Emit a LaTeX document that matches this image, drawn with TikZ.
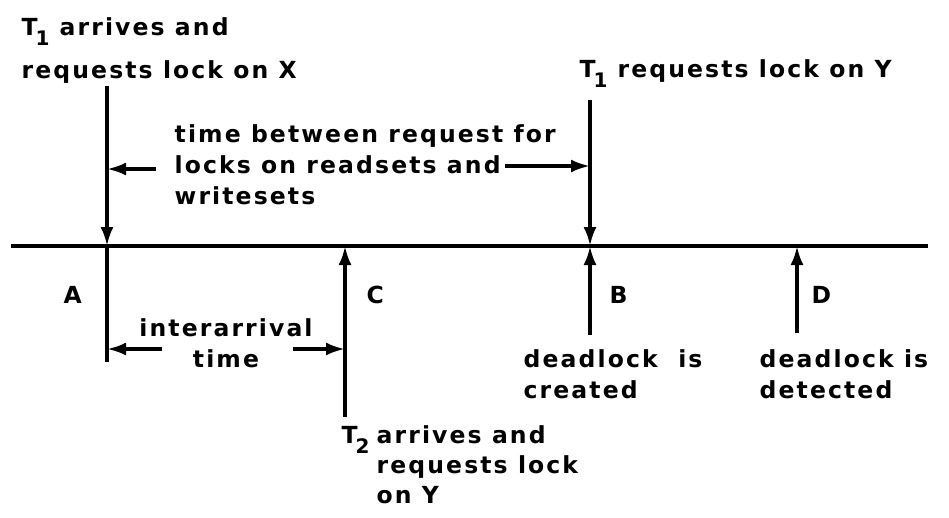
\documentclass[tikz,border=0pt]{standalone}
\usepackage{fontspec}
\setmainfont{DejaVu Sans}[LetterSpace=9]
\usetikzlibrary{arrows.meta}
% transaction subscript, set low and tucked under the T
\newcommand\tsub[1]{\kern-2pt\raisebox{-10pt}{\fontsize{20}{20}\selectfont #1}\kern10pt}
\begin{document}
\begin{tikzpicture}[x=1pt,y=-1pt,line width=3.4pt,
  lbl/.style={anchor=base west,inner sep=0pt,align=left,
    font=\fontsize{23.5}{31}\selectfont\bfseries},
  clbl/.style={lbl,anchor=base,align=center},
  arr/.style={-{Latex[length=19pt,width=13pt]}}]
\useasboundingbox (0,0) rectangle (949,517);

% time axis and the instants A, C, B, D on it
\coordinate (tl) at (11,246);
\coordinate (tr) at (928,246);
\coordinate (aTop) at (107,86);
\coordinate (aMid) at (107,246);
\coordinate (aBot) at (107,362);
\coordinate (cMid) at (345,246);
\coordinate (cBot) at (345,417);
\coordinate (bTop) at (590,100);
\coordinate (bMid) at (590,246);
\coordinate (bBot) at (590,335);
\coordinate (dMid) at (797,246);
\coordinate (dBot) at (797,333);

\draw (tl) -- (tr);
\draw[arr] (aTop) -- (aMid);
\draw (aMid) -- (aBot);
\draw[arr] (bTop) -- (bMid);
\draw[arr] (bBot) -- (bMid);
\draw[arr] (cBot) -- (cMid);
\draw[arr] (dBot) -- (dMid);

% interval arrows
\coordinate (wL) at (156,169);
\coordinate (wR) at (505,166);
\coordinate (iL) at (162,349);
\coordinate (iR) at (293,349);
\draw[arr] (wL) -- (wL -| aTop);
\draw[arr] (wR) -- (wR -| bTop);
\draw[arr] (iL) -- (iL -| aTop);
\draw[arr] (iR) -- (iR -| cBot);

% labels (multi-line labels are placed by the baseline of their last line)
\node[lbl] (t1arrive) at (20,78) {T\tsub{1}arrives and\\[12pt]requests lock on X};
\node[lbl] (t1req) at (578,77) {T\tsub{1}requests lock on Y};
\node[lbl] (between) at (173,204) {time between request for\\locks on readsets and\\writesets};
\node[lbl] (la) at (62,303) {A};
\node[lbl] (lc) at (365,303) {C};
\node[lbl] (lb) at (608,303) {B};
\node[lbl] (ld) at (810,303) {D};
\node[clbl] (inter) at (226,367) {interarrival\\time};
\node[lbl] (created) at (522,398) {deadlock\ \ is\\created};
\node[lbl] (detected) at (758,398) {deadlock is\\detected};
\node[lbl] (t2) at (340,443) {T\tsub{2}};
\node[lbl,font=\fontsize{23.5}{30}\selectfont\bfseries] (t2arrive) at (375,503) {arrives and\\requests lock\\on Y};
\end{tikzpicture}
\end{document}
